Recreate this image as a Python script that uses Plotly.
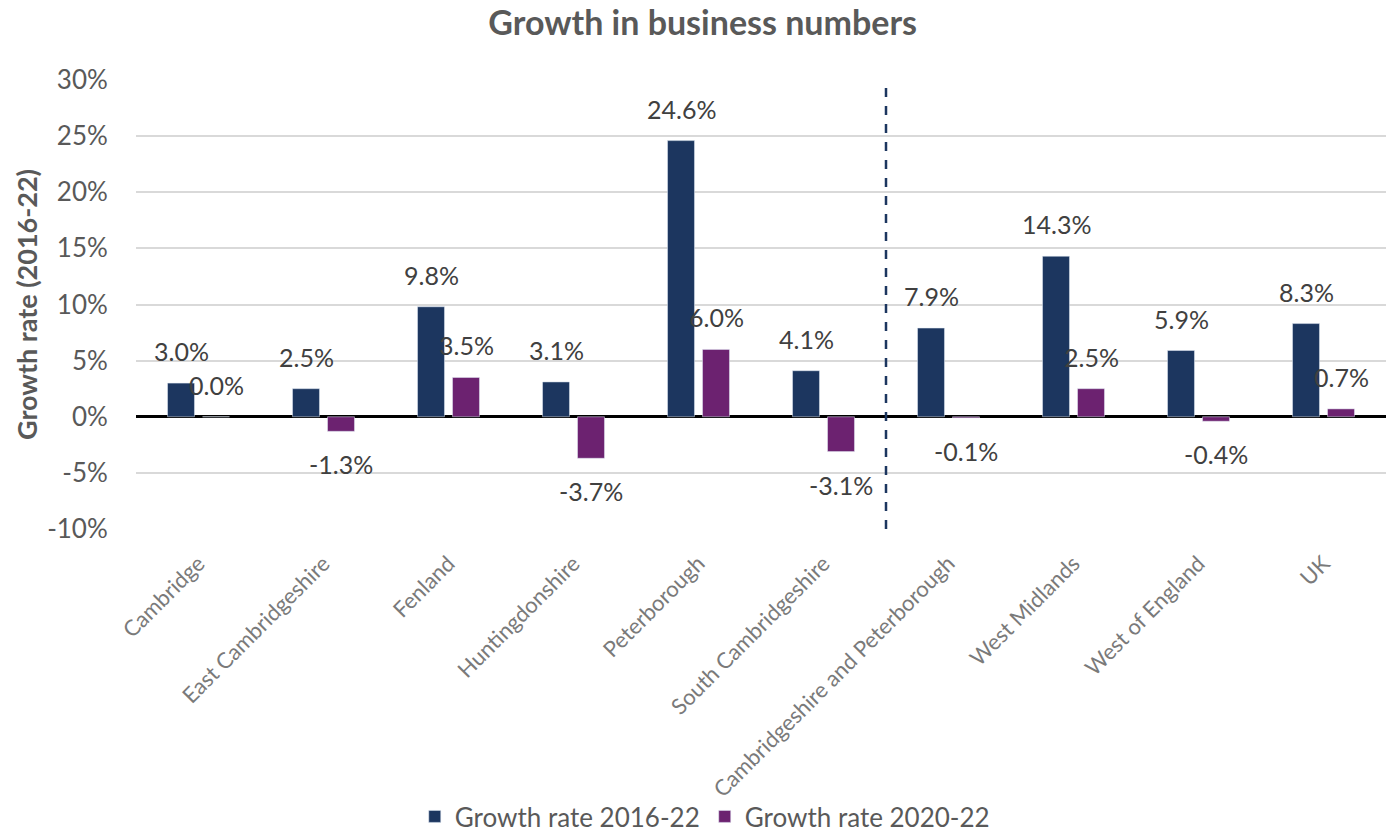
import plotly.graph_objects as go

categories = ["Cambridge", "East Cambridgeshire", "Fenland", "Huntingdonshire",
              "Peterborough", "South Cambridgeshire", "Cambridgeshire and Peterborough",
              "West Midlands", "West of England", "UK"]
growth_2016_22 = [3.0, 2.5, 9.8, 3.1, 24.6, 4.1, 7.9, 14.3, 5.9, 8.3]
growth_2020_22 = [0.0, -1.3, 3.5, -3.7, 6.0, -3.1, -0.1, 2.5, -0.4, 0.7]
y_ticks = [-10, -5, 0, 5, 10, 15, 20, 25, 30]
y_tick_labels = [f"{t}%" for t in y_ticks]

BLUE = "#1C365F"
PURPLE = "#6C2270"
FONT = "Lato"

fig = go.Figure()
fig.add_trace(go.Bar(x=categories, y=growth_2016_22, name="Growth rate 2016-22",
                     marker_color=BLUE))
fig.add_trace(go.Bar(x=categories, y=growth_2020_22, name="Growth rate 2020-22",
                     marker_color=PURPLE))

annotations = []
for vals, shift in ((growth_2016_22, -17.5), (growth_2020_22, 17.5)):
    for c, v in zip(categories, vals):
        pos = v >= 0
        annotations.append(dict(
            x=c, y=v, xref="x", yref="y", text=f"{v:.1f}%", showarrow=False,
            xshift=shift, yshift=15 if pos else -16,
            yanchor="bottom" if pos else "top",
            font=dict(family=FONT, size=25, color="#404040")))

fig.update_layout(
    width=1386, height=840,
    margin=dict(l=136, r=0, t=80, b=311),
    paper_bgcolor="white", plot_bgcolor="white",
    barmode="group", bargap=0.44, bargroupgap=0.23,
    title=dict(text="<b>Growth in business numbers</b>", x=0.507, xanchor="center",
               y=0.972, yanchor="middle", yref="container",
               font=dict(family=FONT, size=34, color="#595959")),
    font=dict(family=FONT, color="#595959"),
    legend=dict(orientation="h", x=0.455, xanchor="center",
                y=-0.012, yanchor="bottom", yref="container",
                bgcolor="rgba(0,0,0,0)",
                font=dict(family=FONT, size=26, color="#595959"), traceorder="normal",
                itemwidth=30),
    annotations=annotations,
    shapes=[dict(type="line", xref="x", yref="paper", x0=5.5, x1=5.5, y0=0, y1=1,
                 line=dict(color=BLUE, width=2.5, dash="dash"))],
)
fig.update_xaxes(showgrid=False, showline=False, tickangle=-45, automargin=False,
                 ticks="outside", ticklen=12, tickcolor="rgba(0,0,0,0)",
                 tickfont=dict(family=FONT, size=22, color="#7a7a7a"))
fig.update_yaxes(range=[-10, 30], tickvals=y_ticks, ticktext=y_tick_labels,
                 automargin=False,
                 showgrid=True, gridcolor="#D9D9D9", gridwidth=1.5,
                 zeroline=True, zerolinecolor="black", zerolinewidth=2.5,
                 ticks="outside", ticklen=22, tickcolor="rgba(0,0,0,0)",
                 tickfont=dict(family=FONT, size=26, color="#595959"),
                 title=dict(text="<b>Growth rate (2016-22)</b>", standoff=1,
                            font=dict(family=FONT, size=27, color="#595959")))

fig.write_html("out.html")
